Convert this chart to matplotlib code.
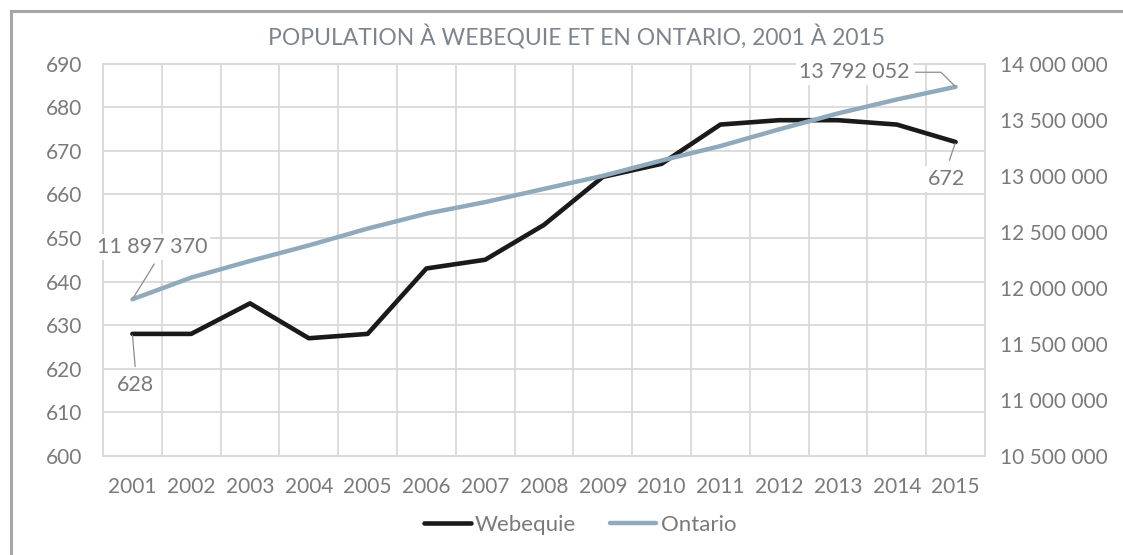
import numpy as np
import matplotlib
matplotlib.use("Agg")
import matplotlib.pyplot as plt
from matplotlib.patches import Rectangle
from matplotlib.lines import Line2D

plt.rcParams['font.family'] = ['Lato', 'DejaVu Sans']

# data
years = ['2001', '2002', '2003', '2004', '2005', '2006', '2007', '2008',
         '2009', '2010', '2011', '2012', '2013', '2014', '2015']
webequie = [628, 628, 635, 627, 628, 643, 645, 653, 664, 667, 676, 677, 677, 676, 672]
ontario = [11897370, 12091000, 12239000, 12378000, 12528000, 12661000, 12764000,
           12882000, 12998000, 13135000, 13264000, 13413000, 13555000, 13679000, 13792052]

title = 'POPULATION À WEBEQUIE ET EN ONTARIO, 2001 À 2015'
txt_color = '#7a7a7a'
grid_color = '#d9d9d9'
web_color = '#1a1a1a'
ont_color = '#8faabb'


def fmt(v):
    return f"{int(v):,}".replace(",", " ")


fig = plt.figure(figsize=(11.23, 5.55), dpi=100)
ax = fig.add_axes([103 / 1123, 1 - 456 / 555, 882 / 1123, 392.5 / 555])
ax2 = ax.twinx()

x = np.arange(len(years))

# grid and frame
ax.set_xlim(-0.5, len(years) - 0.5)
ax.set_xticks(x)
ax.set_xticklabels(years)
ax.set_xticks(np.arange(-0.5, len(years)), minor=True)
ax.set_ylim(600, 690)
ax.set_yticks(np.arange(600, 691, 10))
ax.grid(True, which='minor', axis='x', color=grid_color, lw=1.3)
ax.grid(True, which='major', axis='y', color=grid_color, lw=1.3)
ax.set_axisbelow(True)
for a in (ax, ax2):
    for s in a.spines.values():
        s.set_color(grid_color)
        s.set_linewidth(1.3)
ax.tick_params(axis='both', which='both', length=0, labelsize=15, labelcolor=txt_color)
ax.tick_params(axis='y', pad=15)
ax.tick_params(axis='x', pad=15)

ax2.set_ylim(10500000, 14000000)
ax2.set_yticks(np.arange(10500000, 14000001, 500000))
ax2.set_yticklabels([fmt(v) for v in np.arange(10500000, 14000001, 500000)])
ax2.tick_params(axis='y', length=0, labelsize=15, labelcolor=txt_color, pad=11)

# lines: Ontario (secondary axis) drawn over Webequie
ax.plot(x, webequie, color=web_color, lw=3.3, solid_capstyle='round', zorder=3)
ax2.plot(x, ontario, color=ont_color, lw=3.2, solid_capstyle='round', zorder=3)

# data labels
lab_kw = dict(fontsize=15.5, color=txt_color, ha='center', va='center',
              textcoords='offset points',
              bbox=dict(boxstyle='square,pad=0.15', fc='white', ec='none'))
line_kw = dict(arrowstyle='-', color='#8c8c8c', lw=0.9)

ax2.annotate(fmt(ontario[0]), xy=(x[0], ontario[0]), xytext=(14, 37.5),
             arrowprops=dict(**line_kw, relpos=(0.56, 0), shrinkA=3, shrinkB=1),
             zorder=5, **lab_kw)
ax2.annotate(fmt(ontario[-1]), xy=(x[-1], ontario[-1]), xytext=(-73, 10.5),
             arrowprops=dict(**line_kw, relpos=(1, 0.5), shrinkA=2, shrinkB=1,
                             connectionstyle='angle,angleA=0,angleB=-45,rad=0'),
             zorder=5, **lab_kw)
ax.annotate(str(webequie[0]), xy=(x[0], webequie[0]), xytext=(2.5, -37),
            arrowprops=dict(**line_kw, relpos=(0.5, 1), shrinkA=4, shrinkB=1),
            zorder=5, **lab_kw)
ax.annotate(str(webequie[-1]), xy=(x[-1], webequie[-1]), xytext=(-6.5, -26.5),
            arrowprops=dict(**line_kw, relpos=(0.5, 1), shrinkA=4, shrinkB=1),
            zorder=5, **lab_kw)

# title
fig.text(576 / 1123, 1 - 37 / 555, title, ha='center', va='center',
         fontsize=16.5, color='#7c858f')

# legend
handles = [Line2D([], [], color=web_color, lw=3.3, solid_capstyle='round'),
           Line2D([], [], color=ont_color, lw=3.2, solid_capstyle='round')]
fig.legend(handles, ['Webequie', 'Ontario'], loc='center',
           bbox_to_anchor=(580 / 1123, 1 - 525 / 555), ncol=2, frameon=False,
           fontsize=16, labelcolor=txt_color, handlelength=2.1,
           handletextpad=0.2, columnspacing=1.5)

# outer border
fig.add_artist(Rectangle((10.5 / 1123, -0.2), 1.2, 1.2 - 10.5 / 555,
                         transform=fig.transFigure, fill=False,
                         ec='#a6a6a6', lw=2.2))

fig.savefig('out.png', dpi=100)
